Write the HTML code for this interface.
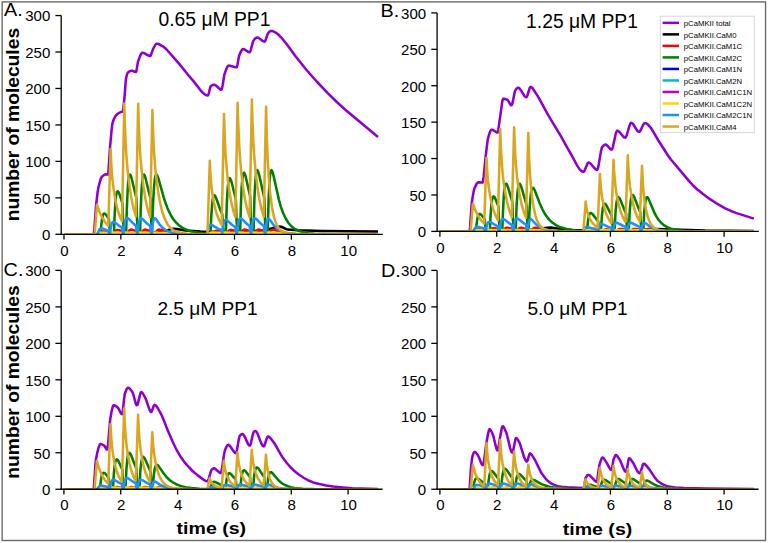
<!DOCTYPE html>
<html><head><meta charset="utf-8"><style>
html,body{margin:0;padding:0;background:#fff;overflow:hidden;}
svg{display:block;}
text{font-family:"Liberation Sans", sans-serif;fill:#000;}
</style></head><body>
<svg width="768" height="543" viewBox="0 0 768 543">
<rect x="0" y="0" width="768" height="543" fill="#fff"/>
<clipPath id="clipA"><rect x="61.20" y="15.55" width="321.60" height="218.75"/></clipPath>
<g clip-path="url(#clipA)">
<path d="M64.0 234.3 L93.6 234.3 L93.8 233.6 L94.4 228.4 L96.1 205.1 L97.5 193.0 L98.4 187.5 L100.1 181.0 L100.9 178.6 L101.8 176.9 L103.2 175.6 L104.9 174.6 L106.3 174.3 L108.1 174.5 L108.3 173.4 L110.0 147.5 L111.5 131.0 L112.3 124.0 L112.9 121.8 L114.0 118.8 L115.2 116.6 L116.3 115.1 L117.7 113.8 L119.4 112.7 L120.8 112.1 L122.5 111.8 L122.8 111.6 L123.4 108.0 L124.5 97.5 L125.7 81.2 L126.0 78.6 L126.8 75.1 L127.4 73.6 L127.9 72.6 L129.4 71.4 L130.5 70.9 L131.4 70.7 L132.2 70.8 L134.8 71.8 L135.9 72.0 L136.2 71.6 L136.5 70.4 L137.9 62.2 L139.9 56.4 L141.3 53.6 L142.2 52.8 L143.3 52.9 L144.7 53.4 L148.4 55.6 L149.8 56.0 L150.4 55.9 L151.0 54.8 L153.0 49.1 L155.2 45.0 L156.1 44.0 L156.6 43.7 L157.5 43.7 L158.6 44.0 L162.0 45.8 L164.3 47.4 L166.6 49.5 L178.8 63.4 L187.6 74.3 L193.3 80.9 L201.3 91.2 L203.0 93.0 L204.7 94.3 L206.4 95.2 L207.8 95.4 L208.1 95.2 L208.7 93.6 L210.4 86.7 L211.2 85.8 L212.6 85.0 L214.1 84.7 L215.2 85.0 L216.3 85.8 L220.0 89.2 L221.2 89.7 L221.4 89.7 L221.7 89.4 L222.6 85.7 L224.3 74.9 L225.7 70.7 L227.1 67.3 L228.0 66.0 L228.8 65.6 L230.8 65.9 L235.4 67.2 L236.5 67.3 L236.8 67.0 L237.4 65.1 L239.1 55.8 L240.8 51.7 L242.2 49.5 L243.0 49.0 L243.9 49.2 L245.0 49.7 L248.2 51.9 L249.3 52.3 L249.9 52.1 L250.7 50.1 L253.0 41.6 L254.4 39.4 L255.6 38.1 L256.7 37.5 L258.1 37.7 L259.5 38.5 L262.7 40.9 L263.8 41.4 L264.6 41.6 L264.9 41.4 L265.5 40.4 L267.5 34.3 L268.6 32.7 L269.8 31.5 L270.6 31.0 L271.8 30.9 L273.2 31.3 L275.2 32.3 L278.3 34.5 L281.1 37.3 L286.8 44.2 L295.9 56.8 L306.1 69.5 L316.7 81.5 L328.0 93.4 L336.8 102.0 L345.9 110.2 L378.0 137.0" fill="none" stroke="#8e00d2" stroke-width="2.55" stroke-linejoin="round" stroke-linecap="butt"/>
<path d="M64.0 234.3 L103.8 234.2 L122.5 233.9 L133.3 233.5 L150.4 232.4 L160.3 231.5 L166.6 230.6 L171.4 229.1 L173.4 228.8 L176.8 229.0 L185.6 230.6 L200.7 231.5 L219.5 232.1 L242.2 231.7 L264.1 230.5 L267.5 229.8 L275.7 227.2 L278.0 226.8 L280.0 226.6 L282.0 227.0 L286.2 229.1 L287.9 229.6 L297.6 230.3 L322.6 230.9 L378.0 231.4" fill="none" stroke="#000000" stroke-width="2.55" stroke-linejoin="round" stroke-linecap="butt"/>
<path d="M64.0 234.3 L100.1 234.3 L100.9 232.9 L101.8 232.0 L102.7 231.6 L103.8 231.4 L105.5 231.6 L108.3 232.3 L109.2 233.5 L110.3 234.0 L113.7 234.3 L114.6 232.2 L115.4 230.9 L116.3 230.2 L117.4 229.9 L119.1 230.2 L122.0 231.3 L122.8 233.1 L124.0 233.9 L125.1 234.2 L127.4 234.3 L128.2 232.0 L129.1 230.6 L129.9 229.9 L131.1 229.6 L132.8 229.9 L135.9 231.2 L136.8 233.0 L137.9 233.9 L139.0 234.2 L141.3 234.3 L142.2 232.0 L143.0 230.6 L143.9 229.9 L145.0 229.6 L146.7 229.9 L150.1 231.3 L151.0 233.1 L151.8 233.8 L153.0 234.1 L154.9 234.3 L155.5 234.3 L156.4 232.0 L157.2 230.6 L158.1 229.9 L159.2 229.6 L161.2 230.0 L167.4 232.5 L171.4 233.5 L177.7 234.1 L188.2 234.3 L212.9 234.3 L213.8 232.5 L214.6 231.5 L215.5 230.9 L216.6 230.7 L218.3 230.9 L221.7 232.0 L222.6 233.4 L223.7 234.0 L227.1 234.3 L228.0 232.2 L228.8 230.9 L230.0 230.1 L231.1 229.9 L232.8 230.3 L235.4 231.3 L236.2 233.1 L237.4 233.9 L238.5 234.2 L240.8 234.3 L241.6 232.0 L242.5 230.6 L243.3 229.9 L244.5 229.6 L246.2 229.9 L249.6 231.3 L250.4 233.1 L251.6 233.9 L252.7 234.2 L255.0 234.3 L255.8 232.0 L256.7 230.6 L257.5 229.9 L258.7 229.6 L260.4 229.9 L263.8 231.3 L264.6 233.1 L265.8 233.9 L266.9 234.2 L269.2 234.3 L270.0 232.0 L270.9 230.6 L271.8 229.9 L272.9 229.6 L274.6 229.9 L279.7 232.0 L282.8 233.0 L286.8 233.7 L291.9 234.1 L305.3 234.3 L378.0 234.3" fill="none" stroke="#ff0000" stroke-width="2.55" stroke-linejoin="round" stroke-linecap="butt"/>
<path d="M64.0 234.3 L100.4 234.3 L100.7 233.0 L101.2 225.6 L102.1 218.7 L102.7 216.1 L103.2 214.5 L103.8 213.7 L104.4 213.5 L105.2 213.9 L106.1 214.8 L108.9 219.0 L109.5 227.8 L109.8 230.1 L110.3 232.5 L110.9 233.5 L111.5 234.0 L113.7 234.3 L114.0 231.6 L114.6 216.4 L115.4 202.1 L116.0 196.6 L116.6 193.4 L117.1 191.7 L117.7 191.3 L118.6 192.1 L119.4 193.9 L122.5 203.6 L123.1 221.3 L123.7 228.8 L124.0 230.7 L124.5 232.8 L125.1 233.7 L126.0 234.1 L126.2 230.5 L126.8 209.3 L127.7 189.5 L128.2 181.9 L128.8 177.4 L129.4 175.1 L129.9 174.5 L130.2 174.6 L130.8 175.6 L131.6 178.2 L136.5 198.8 L137.0 219.3 L137.6 228.0 L137.9 230.2 L138.5 232.6 L139.0 233.6 L139.6 234.0 L139.9 234.1 L140.2 230.4 L140.7 209.3 L141.6 189.5 L142.2 181.9 L143.0 176.0 L143.6 174.7 L143.9 174.5 L144.1 174.6 L144.7 175.6 L145.3 177.2 L150.7 199.8 L151.2 219.8 L151.5 224.9 L152.1 230.3 L153.2 200.7 L154.1 186.0 L154.7 180.2 L155.2 176.7 L155.8 175.0 L156.4 174.5 L156.6 174.6 L157.2 175.4 L158.4 178.3 L163.5 196.7 L165.2 202.0 L167.2 207.4 L169.2 211.9 L171.1 215.7 L173.4 219.2 L175.7 222.1 L178.5 224.9 L181.4 227.1 L184.8 229.0 L188.5 230.6 L192.5 231.7 L197.3 232.6 L202.7 233.3 L209.2 233.8 L210.4 233.8 L210.6 231.4 L211.2 217.7 L212.1 204.9 L212.6 200.0 L213.2 197.2 L213.8 195.7 L214.3 195.3 L215.2 196.0 L216.0 197.7 L220.3 209.7 L222.3 214.5 L222.9 225.9 L223.4 230.7 L223.7 231.9 L224.3 233.2 L224.9 233.8 L225.7 234.1 L226.0 230.6 L226.8 203.3 L227.7 188.2 L228.3 182.6 L228.8 179.5 L229.4 178.2 L229.7 178.1 L230.0 178.2 L230.8 179.8 L231.7 182.5 L235.9 199.8 L236.5 219.7 L237.1 228.1 L237.4 230.3 L237.9 232.6 L238.8 233.8 L239.9 234.2 L240.2 230.4 L240.8 208.5 L241.6 188.1 L242.2 180.3 L242.8 175.7 L243.3 173.3 L243.9 172.7 L244.2 172.8 L244.8 173.8 L245.6 176.4 L250.2 196.5 L250.7 218.3 L251.3 227.6 L251.6 229.9 L252.1 232.4 L252.7 233.5 L253.3 234.0 L253.6 230.1 L254.4 198.9 L255.3 181.7 L256.1 173.2 L256.7 170.8 L257.3 170.1 L257.5 170.3 L258.1 171.3 L259.0 174.1 L264.4 198.5 L264.9 219.2 L265.5 227.9 L265.8 230.2 L266.4 232.6 L266.9 233.6 L267.5 234.0 L267.8 230.1 L268.6 198.9 L269.5 181.7 L270.3 173.2 L270.9 170.8 L271.5 170.1 L272.0 170.7 L272.9 173.0 L278.9 199.6 L280.8 206.6 L283.1 213.0 L285.7 218.5 L288.5 223.0 L291.6 226.5 L295.3 229.2 L299.0 231.0 L303.3 232.3 L308.4 233.2 L314.7 233.8 L331.7 234.2 L378.0 234.3" fill="none" stroke="#008000" stroke-width="2.55" stroke-linejoin="round" stroke-linecap="butt"/>
<path d="M64.0 234.3 L378.0 234.3" fill="none" stroke="#0000ff" stroke-width="2.55" stroke-linejoin="round" stroke-linecap="butt"/>
<path d="M64.0 234.3 L378.0 234.3" fill="none" stroke="#00bfbf" stroke-width="2.55" stroke-linejoin="round" stroke-linecap="butt"/>
<path d="M64.0 234.3 L378.0 234.3" fill="none" stroke="#bf00bf" stroke-width="2.55" stroke-linejoin="round" stroke-linecap="butt"/>
<path d="M64.0 234.3 L94.1 234.3 L95.3 234.1 L96.7 233.1 L97.8 232.6 L108.9 233.0 L111.7 232.6 L122.5 233.0 L124.0 232.7 L126.0 232.6 L136.5 233.0 L137.9 232.7 L139.6 232.6 L150.7 233.0 L152.1 232.7 L154.1 232.6 L188.2 234.2 L207.8 234.3 L210.4 233.0 L211.5 232.6 L222.3 233.0 L223.7 232.7 L225.7 232.6 L235.9 233.0 L238.8 232.6 L250.2 233.0 L252.7 232.6 L264.4 233.0 L265.8 232.7 L268.3 232.6 L287.7 233.6 L306.4 234.3 L378.0 234.3" fill="none" stroke="#ffd700" stroke-width="2.55" stroke-linejoin="round" stroke-linecap="butt"/>
<path d="M64.0 234.3 L97.8 234.3 L98.4 231.8 L99.2 229.7 L100.1 228.8 L101.2 228.5 L102.9 228.8 L108.3 230.7 L108.9 233.1 L109.5 233.9 L110.0 234.1 L110.6 228.9 L111.5 224.5 L112.3 222.5 L112.9 222.0 L113.5 221.9 L114.9 222.5 L119.1 225.8 L122.0 227.6 L122.5 232.0 L123.1 233.5 L123.7 234.0 L124.3 227.1 L125.1 221.3 L126.0 218.7 L126.5 218.1 L127.1 217.9 L127.7 218.1 L128.5 218.6 L133.1 223.3 L135.9 225.7 L136.5 231.3 L137.0 233.2 L137.6 233.9 L138.2 227.2 L139.0 221.6 L139.9 219.1 L140.4 218.4 L141.0 218.3 L141.6 218.4 L142.4 219.0 L147.0 223.5 L150.1 226.1 L150.7 231.4 L151.2 233.3 L151.8 233.9 L152.4 226.6 L153.0 222.2 L153.8 219.0 L154.1 218.6 L154.7 218.3 L155.2 218.5 L156.1 219.3 L159.5 224.3 L162.0 227.2 L164.6 229.3 L167.7 231.1 L171.4 232.4 L176.0 233.3 L181.7 233.9 L189.6 234.2 L207.2 234.3 L207.8 230.2 L208.7 226.8 L209.5 225.3 L210.1 224.9 L210.6 224.8 L212.1 225.2 L217.5 228.4 L221.7 230.2 L222.3 232.9 L222.9 227.5 L223.7 222.7 L224.6 220.4 L225.1 219.9 L226.0 219.8 L227.1 220.4 L232.0 224.7 L235.4 227.2 L235.9 231.8 L236.5 233.4 L237.1 234.0 L237.6 227.3 L238.5 221.6 L239.4 219.1 L239.9 218.4 L240.5 218.3 L241.1 218.4 L241.9 219.0 L246.5 223.5 L249.6 226.1 L250.2 231.4 L250.7 233.3 L251.3 233.9 L251.9 227.2 L252.7 221.6 L253.6 219.1 L254.1 218.4 L254.7 218.3 L255.3 218.4 L256.1 219.0 L260.7 223.5 L263.8 226.1 L264.4 231.4 L264.9 233.3 L265.5 233.9 L266.1 226.8 L266.6 222.5 L267.5 219.4 L267.8 218.9 L268.3 218.6 L268.9 218.8 L269.8 219.7 L272.9 224.1 L274.6 226.2 L276.3 227.9 L278.0 229.3 L280.3 230.6 L282.8 231.7 L286.0 232.7 L289.4 233.3 L296.5 233.9 L307.3 234.2 L378.0 234.3" fill="none" stroke="#1e90ff" stroke-width="2.55" stroke-linejoin="round" stroke-linecap="butt"/>
<path d="M64.0 234.3 L94.7 234.3 L97.0 204.7 L99.5 212.0 L102.1 217.4 L104.9 222.0 L108.3 225.8 L110.6 149.0 L111.2 162.3 L112.0 175.0 L112.9 183.6 L114.3 193.9 L116.0 203.1 L117.7 210.0 L119.7 216.2 L122.0 221.3 L124.3 103.4 L124.8 124.1 L125.7 143.9 L126.5 157.2 L127.9 173.3 L129.7 187.4 L131.4 198.2 L133.6 208.7 L135.9 216.2 L138.2 103.8 L138.7 124.1 L139.6 143.8 L140.4 157.1 L141.9 173.2 L143.6 187.4 L145.6 199.7 L147.8 209.9 L150.1 217.0 L152.4 110.0 L153.0 129.4 L153.8 148.1 L154.9 164.3 L156.4 178.6 L158.1 191.6 L160.1 202.8 L162.3 212.0 L164.9 219.2 L167.2 223.7 L168.6 225.7 L170.0 227.4 L173.1 230.0 L175.1 231.2 L177.1 232.0 L181.7 233.1 L187.3 233.8 L195.0 234.1 L207.5 234.3 L209.8 160.7 L210.4 172.7 L211.2 184.1 L212.1 191.7 L213.5 200.6 L215.2 208.5 L217.2 215.3 L219.5 220.9 L221.7 224.8 L224.0 114.0 L224.6 133.2 L225.4 151.5 L226.3 163.8 L227.7 178.5 L229.4 191.5 L231.1 201.4 L233.1 210.0 L235.4 217.2 L237.6 102.7 L238.2 123.3 L239.1 143.1 L239.9 156.6 L241.3 172.8 L243.0 187.1 L245.0 199.5 L247.3 209.7 L249.6 217.0 L251.9 99.4 L252.4 120.5 L253.3 140.9 L254.1 154.7 L255.6 171.3 L257.3 185.9 L259.2 198.7 L261.5 209.1 L263.8 216.5 L266.1 106.7 L266.9 140.5 L267.8 160.9 L268.9 179.1 L270.3 194.7 L272.0 207.4 L274.0 217.1 L275.2 220.9 L276.6 224.5 L278.0 227.1 L279.4 229.0 L282.0 231.2 L284.8 232.6 L288.5 233.5 L293.9 234.0 L309.0 234.3 L378.0 234.3" fill="none" stroke="#daa520" stroke-width="2.55" stroke-linejoin="round" stroke-linecap="butt"/>
</g>
<clipPath id="clipB"><rect x="437.10" y="12.90" width="321.70" height="218.50"/></clipPath>
<g clip-path="url(#clipB)">
<path d="M439.9 231.4 L469.5 231.4 L469.7 230.4 L470.0 227.9 L471.7 203.5 L472.9 195.6 L474.0 189.8 L474.6 188.0 L476.0 184.9 L476.8 183.5 L477.7 182.6 L478.6 182.2 L482.5 182.6 L482.8 182.1 L483.7 176.4 L485.1 161.5 L486.8 146.9 L487.6 140.6 L488.2 137.7 L489.9 132.1 L490.8 130.3 L491.3 129.7 L492.2 129.7 L493.0 130.0 L496.7 132.4 L497.6 132.6 L497.9 132.2 L498.4 129.3 L501.9 104.1 L502.4 100.8 L503.0 99.0 L503.3 98.7 L504.4 98.8 L507.3 99.7 L508.1 100.6 L510.4 104.5 L510.9 105.1 L511.5 105.3 L511.8 105.1 L512.4 103.6 L514.9 91.2 L515.8 89.7 L516.9 88.3 L517.5 87.9 L518.1 87.7 L518.6 87.8 L519.5 88.4 L520.6 89.9 L524.3 95.8 L525.4 96.9 L526.3 97.2 L526.9 96.7 L527.4 95.4 L529.7 88.0 L530.3 87.0 L530.6 86.9 L531.7 87.4 L532.8 88.5 L538.5 97.4 L548.2 115.2 L561.0 136.3 L567.5 148.2 L571.5 155.0 L577.2 165.6 L579.7 169.4 L581.7 171.3 L583.1 171.8 L583.7 171.7 L584.0 171.5 L584.8 170.1 L587.4 163.7 L588.0 162.8 L588.5 162.5 L589.4 162.7 L590.5 163.5 L595.4 169.2 L596.5 169.8 L597.1 169.9 L597.3 169.7 L597.9 168.4 L598.5 165.9 L600.8 152.1 L601.9 147.4 L602.5 146.6 L603.9 145.3 L605.0 144.7 L605.9 144.6 L607.3 145.6 L610.4 149.1 L611.3 149.6 L611.8 149.5 L612.4 148.5 L613.0 146.6 L615.8 133.6 L616.4 131.8 L617.0 130.8 L617.5 130.7 L618.7 131.3 L619.8 132.4 L623.2 136.5 L624.3 137.4 L625.2 137.6 L625.8 137.2 L626.6 135.5 L629.5 125.7 L630.3 123.6 L630.9 122.8 L631.7 122.9 L632.9 123.8 L637.1 130.5 L638.3 131.6 L639.1 131.9 L639.7 131.7 L640.5 130.5 L643.1 125.0 L644.0 123.6 L644.5 123.2 L645.7 123.2 L646.8 123.7 L648.2 124.8 L651.1 128.2 L658.4 140.5 L667.8 155.2 L670.7 159.2 L688.9 180.9 L693.1 185.5 L697.1 189.2 L703.4 194.3 L709.6 198.9 L717.8 204.2 L725.2 208.3 L730.4 210.7 L735.8 212.9 L753.9 218.6" fill="none" stroke="#8e00d2" stroke-width="2.55" stroke-linejoin="round" stroke-linecap="butt"/>
<path d="M439.9 231.4 L484.5 231.3 L520.0 230.5 L529.4 230.0 L547.3 227.8 L550.7 227.6 L553.9 227.9 L561.8 229.2 L572.1 230.0 L579.7 230.3 L639.1 229.9 L652.2 229.0 L656.5 228.9 L705.1 230.6 L753.9 231.0" fill="none" stroke="#000000" stroke-width="2.55" stroke-linejoin="round" stroke-linecap="butt"/>
<path d="M439.9 231.4 L476.0 231.4 L476.8 230.3 L477.7 229.7 L478.6 229.4 L479.7 229.2 L484.2 229.9 L485.1 230.8 L486.2 231.2 L489.6 231.4 L490.5 229.8 L491.3 228.8 L492.2 228.3 L493.3 228.1 L495.0 228.3 L497.9 229.2 L498.7 230.5 L499.9 231.1 L503.3 231.4 L504.1 229.6 L505.0 228.6 L505.8 228.0 L507.0 227.8 L508.7 228.0 L511.8 229.0 L512.7 230.4 L513.8 231.1 L517.2 231.4 L518.1 229.6 L518.9 228.6 L519.8 228.0 L520.9 227.8 L522.6 228.0 L526.0 229.1 L526.9 230.5 L527.7 231.0 L528.9 231.3 L530.8 231.4 L531.4 231.4 L532.3 229.6 L533.1 228.6 L534.0 228.0 L535.1 227.8 L536.8 228.0 L542.2 229.7 L545.9 230.6 L550.7 231.1 L557.6 231.3 L588.8 231.4 L590.5 230.3 L592.5 229.9 L597.6 230.5 L598.5 231.0 L599.6 231.3 L603.0 231.4 L603.9 230.3 L604.7 229.7 L605.6 229.4 L606.7 229.2 L611.3 229.9 L612.1 230.8 L613.3 231.2 L616.7 231.4 L617.5 230.2 L618.4 229.4 L619.2 229.0 L620.4 228.9 L622.1 229.0 L625.5 229.8 L626.3 230.7 L627.5 231.2 L630.9 231.4 L631.7 230.2 L632.6 229.4 L633.4 229.0 L634.6 228.9 L636.3 229.0 L639.7 229.8 L640.5 230.7 L641.7 231.2 L645.1 231.4 L645.9 230.2 L646.8 229.4 L647.7 229.0 L648.8 228.9 L650.5 229.0 L658.7 230.7 L667.8 231.3 L753.9 231.4" fill="none" stroke="#ff0000" stroke-width="2.55" stroke-linejoin="round" stroke-linecap="butt"/>
<path d="M439.9 231.4 L475.7 231.4 L476.0 230.3 L476.6 224.1 L477.4 218.3 L478.0 216.1 L478.6 214.8 L479.1 214.1 L479.7 213.9 L480.5 214.2 L481.4 215.0 L484.8 219.3 L485.4 226.3 L485.7 228.1 L486.2 230.0 L486.8 230.8 L487.4 231.1 L489.6 231.4 L489.9 229.2 L490.5 216.8 L491.3 205.2 L491.9 200.8 L492.5 198.1 L493.0 196.8 L493.6 196.4 L494.5 197.1 L495.3 198.6 L498.4 206.5 L499.0 220.8 L499.6 226.9 L499.9 228.5 L500.4 230.2 L501.0 230.9 L502.1 231.3 L502.4 228.4 L503.0 211.5 L503.8 195.7 L504.4 189.6 L505.0 186.0 L505.6 184.2 L506.1 183.7 L506.4 183.8 L507.0 184.6 L507.8 186.6 L512.4 202.1 L512.9 219.0 L513.5 226.2 L513.8 228.0 L514.4 230.0 L514.9 230.8 L515.5 231.1 L515.8 228.3 L516.6 205.1 L517.5 192.3 L518.3 186.0 L518.9 184.2 L519.5 183.7 L519.8 183.8 L520.3 184.6 L521.2 186.6 L526.6 204.8 L526.9 214.1 L527.4 224.1 L528.0 228.3 L528.6 230.1 L529.7 207.1 L530.6 196.2 L531.1 191.9 L531.7 189.3 L532.3 188.1 L532.8 187.7 L533.7 188.3 L534.8 190.5 L539.7 203.2 L542.5 209.6 L545.3 214.6 L548.2 218.5 L550.2 220.6 L552.2 222.5 L556.4 225.4 L559.0 226.6 L561.5 227.6 L567.5 229.2 L575.7 230.4 L586.8 231.0 L587.1 229.9 L587.7 223.5 L588.5 217.5 L589.1 215.2 L589.7 213.8 L590.2 213.1 L590.8 212.9 L591.7 213.3 L592.5 214.1 L598.2 221.4 L598.5 224.9 L599.1 228.6 L599.6 230.2 L600.2 230.8 L600.8 231.1 L601.0 229.4 L601.9 216.0 L602.7 208.6 L603.6 205.0 L604.2 203.9 L604.7 203.7 L605.6 204.2 L606.4 205.4 L611.8 215.9 L612.1 221.3 L612.7 227.1 L613.3 229.6 L613.8 230.6 L614.4 231.1 L614.7 229.0 L615.5 212.5 L616.4 203.3 L617.2 198.8 L617.8 197.5 L618.4 197.1 L619.2 197.8 L620.1 199.2 L624.1 209.1 L626.1 213.5 L626.3 219.7 L626.9 226.5 L627.5 229.3 L628.0 230.5 L628.6 231.0 L628.9 228.9 L629.7 211.3 L630.6 201.5 L631.5 196.7 L632.0 195.4 L632.6 195.0 L633.4 195.6 L634.3 197.2 L638.3 207.6 L640.3 212.3 L640.5 219.0 L641.1 226.2 L641.4 228.0 L642.0 230.0 L642.5 230.8 L643.1 231.1 L643.4 229.1 L644.2 212.5 L645.1 203.3 L645.9 198.8 L646.5 197.5 L647.1 197.2 L647.7 197.5 L648.5 198.7 L654.5 212.9 L656.5 216.6 L658.7 220.0 L661.3 223.0 L664.1 225.4 L667.3 227.2 L671.0 228.7 L674.6 229.6 L678.9 230.3 L684.0 230.8 L690.3 231.1 L707.3 231.4 L753.9 231.4" fill="none" stroke="#008000" stroke-width="2.55" stroke-linejoin="round" stroke-linecap="butt"/>
<path d="M439.9 231.4 L753.9 231.4" fill="none" stroke="#0000ff" stroke-width="2.55" stroke-linejoin="round" stroke-linecap="butt"/>
<path d="M439.9 231.4 L753.9 231.4" fill="none" stroke="#00bfbf" stroke-width="2.55" stroke-linejoin="round" stroke-linecap="butt"/>
<path d="M439.9 231.4 L753.9 231.4" fill="none" stroke="#bf00bf" stroke-width="2.55" stroke-linejoin="round" stroke-linecap="butt"/>
<path d="M439.9 231.4 L470.0 231.4 L471.2 231.2 L472.9 230.1 L474.0 229.9 L484.8 230.2 L486.2 229.9 L488.2 229.9 L498.4 230.2 L501.3 229.9 L512.4 230.2 L514.9 229.9 L526.6 230.2 L528.0 229.9 L530.6 229.9 L559.8 231.1 L569.5 231.4 L584.0 231.4 L586.5 230.2 L587.7 229.9 L598.2 230.2 L601.6 229.9 L611.8 230.2 L615.0 229.9 L626.1 230.2 L629.2 229.9 L640.3 230.2 L643.1 229.9 L681.8 231.4 L753.9 231.4" fill="none" stroke="#ffd700" stroke-width="2.55" stroke-linejoin="round" stroke-linecap="butt"/>
<path d="M439.9 231.4 L473.7 231.4 L474.3 229.4 L475.1 227.7 L476.0 226.9 L477.1 226.7 L478.8 227.0 L484.2 228.5 L484.8 230.4 L485.4 231.0 L485.9 231.3 L486.5 227.3 L487.4 223.9 L488.2 222.4 L488.8 222.0 L489.4 221.9 L490.8 222.4 L495.0 224.9 L497.9 226.3 L498.4 229.6 L499.0 230.8 L499.6 231.2 L500.2 226.0 L501.0 221.6 L501.9 219.6 L502.4 219.1 L503.0 219.0 L504.4 219.6 L509.0 223.1 L511.8 224.9 L512.4 229.1 L512.9 230.6 L513.5 231.1 L514.1 225.6 L514.9 221.0 L515.8 219.0 L516.3 218.4 L516.9 218.3 L518.3 218.9 L522.9 222.6 L526.0 224.7 L526.6 229.1 L527.1 230.6 L527.7 231.1 L528.3 225.4 L528.9 222.0 L529.7 219.6 L530.0 219.3 L530.6 219.0 L531.1 219.2 L532.0 219.9 L535.4 223.6 L537.4 225.5 L539.4 226.9 L541.6 228.1 L544.5 229.2 L547.9 230.0 L551.9 230.6 L556.7 231.0 L566.1 231.3 L583.1 231.4 L583.7 229.5 L584.6 227.9 L585.4 227.2 L586.5 227.0 L597.6 229.5 L598.2 230.7 L598.8 228.0 L599.6 225.6 L600.5 224.5 L601.6 224.1 L603.0 224.4 L607.9 226.6 L611.3 227.9 L611.8 230.2 L612.4 231.0 L613.0 231.2 L613.5 227.6 L614.4 224.5 L615.3 223.1 L615.8 222.7 L616.4 222.7 L617.8 223.1 L622.4 225.5 L625.5 226.9 L626.1 229.8 L626.6 230.9 L627.2 231.2 L627.8 227.6 L628.6 224.5 L629.5 223.1 L630.0 222.7 L630.6 222.7 L632.0 223.1 L636.6 225.5 L639.7 226.9 L640.3 229.8 L640.8 230.9 L641.4 231.2 L642.0 227.2 L642.5 224.8 L643.4 223.1 L644.2 222.7 L645.7 223.2 L650.5 226.9 L653.9 228.6 L658.7 230.0 L665.3 230.8 L672.4 231.2 L683.2 231.4 L753.9 231.4" fill="none" stroke="#1e90ff" stroke-width="2.55" stroke-linejoin="round" stroke-linecap="butt"/>
<path d="M439.9 231.4 L470.6 231.4 L472.9 203.7 L475.4 210.5 L478.0 215.6 L480.8 219.9 L484.2 223.5 L486.5 157.8 L487.1 169.3 L487.9 180.2 L488.8 187.6 L490.2 196.5 L491.9 204.4 L493.6 210.4 L495.6 215.7 L497.9 220.2 L500.2 128.7 L500.7 144.9 L501.6 160.4 L502.4 170.8 L503.8 183.4 L505.6 194.5 L507.3 203.0 L509.5 211.3 L511.8 217.2 L514.1 127.2 L515.2 154.7 L516.1 166.6 L516.9 175.5 L518.1 184.8 L519.5 194.0 L521.2 202.6 L522.9 209.2 L524.3 213.5 L526.0 217.6 L528.3 133.1 L529.1 159.1 L530.0 174.8 L531.4 191.6 L532.3 198.8 L533.4 206.3 L535.4 215.3 L536.5 218.9 L537.9 222.3 L539.4 224.7 L540.8 226.5 L542.5 228.0 L544.8 229.3 L548.7 230.5 L554.7 231.1 L563.5 231.3 L583.4 231.4 L585.7 201.5 L586.3 206.4 L587.1 211.1 L588.0 214.1 L589.4 217.7 L591.1 220.9 L593.1 223.7 L595.4 226.0 L597.6 227.6 L599.9 173.9 L600.5 183.1 L601.3 191.9 L602.2 197.7 L603.3 203.6 L605.0 210.1 L606.7 215.0 L609.0 219.8 L611.3 223.2 L613.5 159.7 L614.1 171.0 L615.0 181.8 L615.8 189.1 L617.2 198.0 L618.9 205.7 L620.9 212.5 L623.2 218.0 L625.5 222.0 L627.8 155.3 L628.3 167.2 L629.2 178.7 L630.0 186.5 L631.5 195.9 L633.2 204.1 L635.1 211.3 L637.4 217.2 L639.7 221.4 L642.0 165.9 L642.8 183.1 L643.7 193.6 L644.8 202.9 L646.2 210.9 L647.9 217.4 L649.9 222.4 L651.1 224.4 L652.5 226.3 L653.9 227.6 L655.3 228.6 L657.9 229.8 L660.7 230.5 L664.4 231.0 L669.8 231.2 L753.9 231.4" fill="none" stroke="#daa520" stroke-width="2.55" stroke-linejoin="round" stroke-linecap="butt"/>
</g>
<clipPath id="clipC"><rect x="61.20" y="270.40" width="321.40" height="218.85"/></clipPath>
<g clip-path="url(#clipC)">
<path d="M63.9 489.2 L93.5 489.2 L93.7 488.4 L94.0 486.0 L95.4 465.1 L96.0 459.4 L97.4 452.1 L98.9 446.7 L100.0 444.3 L100.6 444.0 L101.4 444.1 L104.0 445.3 L106.5 449.2 L107.1 449.5 L107.4 449.0 L108.2 442.6 L110.2 419.4 L111.6 411.3 L112.8 406.6 L113.4 405.4 L113.9 405.3 L115.3 405.8 L117.0 407.1 L117.9 407.8 L118.5 408.6 L121.0 413.3 L121.6 413.9 L122.2 414.2 L122.4 413.6 L122.7 412.0 L124.2 397.9 L124.7 394.3 L125.9 391.0 L126.7 389.1 L127.6 387.9 L128.1 387.7 L129.0 388.0 L130.1 388.9 L132.7 392.6 L133.5 395.1 L135.5 402.7 L136.1 404.3 L136.7 405.2 L136.9 405.3 L137.2 405.1 L137.8 403.9 L140.1 394.4 L140.6 392.7 L141.2 392.1 L142.1 392.5 L142.9 393.5 L146.0 399.3 L149.2 408.8 L150.0 410.8 L150.6 411.7 L151.1 412.0 L151.7 411.5 L153.7 406.0 L154.3 405.1 L154.6 404.9 L155.1 405.1 L156.3 406.0 L158.0 408.5 L161.4 414.7 L163.4 419.3 L168.2 431.6 L173.6 443.8 L177.0 450.7 L181.0 457.3 L183.3 460.5 L185.5 463.4 L189.2 467.5 L192.6 471.0 L198.0 475.6 L203.7 479.8 L205.7 480.9 L207.4 481.3 L208.0 480.8 L208.8 478.6 L211.1 470.7 L211.7 469.7 L213.1 468.6 L214.0 468.3 L215.1 468.7 L219.4 472.5 L220.5 473.0 L220.8 473.0 L221.1 472.7 L221.9 469.4 L223.9 455.3 L224.8 450.7 L226.2 447.2 L227.3 445.3 L228.2 444.8 L228.7 445.0 L229.6 445.6 L230.7 447.0 L233.9 451.7 L235.0 452.8 L235.8 453.1 L236.1 452.8 L236.7 451.2 L239.0 438.3 L239.8 435.7 L241.0 434.6 L241.8 434.1 L242.7 434.1 L243.2 434.5 L244.7 436.6 L248.1 444.1 L248.9 445.2 L249.8 445.6 L250.3 445.0 L250.9 443.3 L252.6 435.5 L253.5 432.4 L254.0 431.5 L255.5 431.0 L256.3 431.5 L257.4 433.3 L261.1 442.9 L262.0 444.7 L262.8 446.0 L263.7 446.4 L264.0 446.3 L264.5 445.4 L266.5 439.1 L267.4 437.0 L268.0 436.5 L268.5 436.6 L269.4 437.1 L271.1 438.9 L274.8 443.8 L280.7 454.4 L282.7 457.6 L286.4 462.5 L289.8 466.5 L294.1 470.8 L298.4 474.3 L304.0 478.0 L309.2 480.8 L313.1 482.4 L319.4 484.1 L326.2 485.6 L333.0 486.6 L342.7 487.5 L352.4 488.2 L377.9 488.9" fill="none" stroke="#8e00d2" stroke-width="2.55" stroke-linejoin="round" stroke-linecap="butt"/>
<path d="M63.9 489.2 L377.9 489.2" fill="none" stroke="#000000" stroke-width="2.55" stroke-linejoin="round" stroke-linecap="butt"/>
<path d="M63.9 489.2 L100.0 489.2 L101.7 488.1 L103.7 487.8 L108.2 488.3 L109.1 488.8 L110.2 489.1 L113.6 489.2 L114.5 488.2 L115.3 487.5 L116.2 487.2 L117.3 487.1 L121.9 487.8 L122.7 488.6 L123.9 489.1 L127.3 489.2 L128.1 488.2 L129.0 487.5 L129.8 487.2 L131.0 487.1 L132.7 487.2 L135.8 487.8 L136.7 488.7 L137.5 489.0 L140.6 489.2 L141.2 489.2 L142.1 488.2 L142.9 487.5 L143.8 487.2 L144.9 487.1 L146.6 487.2 L150.0 487.9 L150.9 488.7 L152.0 489.1 L155.4 489.2 L156.3 488.2 L157.1 487.5 L158.0 487.2 L159.1 487.1 L169.9 488.7 L174.7 489.1 L181.6 489.2 L212.8 489.2 L214.5 488.4 L216.5 488.2 L221.6 488.6 L222.5 489.0 L223.6 489.2 L227.0 489.2 L228.7 488.1 L230.7 487.8 L235.3 488.3 L236.1 488.8 L237.3 489.1 L240.7 489.2 L242.4 488.1 L244.4 487.8 L249.5 488.3 L250.3 488.9 L251.5 489.1 L254.9 489.2 L256.6 488.1 L258.6 487.8 L263.7 488.3 L264.5 488.9 L265.7 489.1 L269.1 489.2 L270.8 488.1 L272.8 487.8 L282.7 488.9 L291.8 489.2 L377.9 489.2" fill="none" stroke="#ff0000" stroke-width="2.55" stroke-linejoin="round" stroke-linecap="butt"/>
<path d="M63.9 489.2 L99.7 489.2 L100.0 488.2 L100.6 482.4 L101.4 477.0 L102.0 474.9 L102.6 473.6 L103.1 473.0 L103.7 472.8 L104.5 473.1 L105.4 473.8 L108.8 477.9 L109.4 484.4 L109.9 487.2 L110.8 488.7 L111.6 489.1 L112.8 489.2 L113.1 487.4 L113.6 476.8 L114.5 466.9 L115.1 463.0 L115.6 460.8 L116.2 459.7 L116.8 459.3 L117.6 459.9 L118.5 461.2 L122.4 469.7 L122.7 476.6 L123.3 483.9 L123.6 485.8 L124.2 487.8 L124.7 488.6 L125.3 489.0 L125.6 486.8 L126.4 469.1 L127.3 459.3 L128.1 454.5 L128.7 453.2 L129.3 452.8 L130.1 453.4 L131.0 455.0 L136.4 468.9 L136.7 476.0 L137.2 483.7 L137.5 485.6 L138.1 487.7 L138.6 488.6 L139.2 489.0 L139.5 487.1 L140.3 471.3 L141.2 462.6 L142.1 458.4 L142.6 457.1 L143.2 456.8 L144.0 457.4 L144.9 458.8 L150.6 471.7 L150.9 477.9 L151.4 484.4 L152.0 487.2 L152.6 488.4 L153.7 475.6 L154.6 469.5 L155.1 467.2 L155.7 465.7 L156.3 465.0 L156.8 464.8 L157.7 465.2 L158.8 466.4 L163.7 473.5 L166.5 477.0 L169.3 479.8 L172.2 482.0 L176.2 484.2 L180.4 485.9 L185.5 487.2 L191.5 488.0 L199.5 488.7 L210.3 489.0 L210.5 488.6 L211.1 486.0 L212.0 483.6 L213.1 482.1 L214.2 481.8 L215.9 482.3 L222.2 485.5 L222.8 487.6 L223.3 488.5 L224.2 489.0 L225.3 489.2 L225.6 488.2 L226.2 482.5 L227.0 477.2 L227.6 475.1 L228.2 473.9 L228.7 473.3 L229.3 473.2 L230.2 473.5 L231.0 474.2 L235.8 479.7 L236.4 485.2 L237.0 487.5 L237.5 488.5 L238.1 488.9 L240.1 489.2 L240.4 488.0 L241.0 481.3 L241.8 475.0 L242.4 472.6 L242.9 471.2 L243.5 470.5 L244.1 470.3 L244.9 470.6 L245.8 471.4 L250.1 477.2 L250.3 481.4 L250.9 486.0 L251.8 488.3 L252.3 488.9 L252.9 489.1 L253.2 487.8 L254.0 477.2 L254.9 471.3 L255.7 468.4 L256.3 467.6 L256.9 467.4 L257.7 467.8 L258.6 468.7 L264.3 477.4 L264.5 481.6 L265.1 486.0 L265.7 487.9 L266.3 488.7 L266.8 489.0 L267.1 488.0 L268.0 479.8 L268.8 475.2 L269.7 472.9 L270.2 472.3 L270.8 472.1 L271.4 472.3 L272.2 472.9 L278.2 480.0 L280.2 481.9 L282.4 483.6 L285.0 485.0 L287.8 486.2 L291.0 487.2 L294.7 487.9 L302.6 488.7 L314.0 489.1 L377.9 489.2" fill="none" stroke="#008000" stroke-width="2.55" stroke-linejoin="round" stroke-linecap="butt"/>
<path d="M63.9 489.2 L377.9 489.2" fill="none" stroke="#0000ff" stroke-width="2.55" stroke-linejoin="round" stroke-linecap="butt"/>
<path d="M63.9 489.2 L377.9 489.2" fill="none" stroke="#00bfbf" stroke-width="2.55" stroke-linejoin="round" stroke-linecap="butt"/>
<path d="M63.9 489.2 L377.9 489.2" fill="none" stroke="#bf00bf" stroke-width="2.55" stroke-linejoin="round" stroke-linecap="butt"/>
<path d="M63.9 489.2 L94.0 489.2 L95.2 489.1 L96.6 488.0 L98.0 487.6 L108.8 488.1 L110.2 487.6 L112.2 487.6 L122.4 488.1 L123.6 487.7 L125.3 487.6 L136.4 488.1 L137.8 487.7 L139.8 487.6 L150.6 488.1 L152.0 487.7 L154.0 487.6 L172.7 488.6 L193.2 489.2 L208.0 489.2 L210.0 488.1 L211.7 487.7 L222.2 488.2 L223.6 487.8 L225.6 487.7 L235.8 488.2 L237.3 487.8 L239.0 487.7 L250.1 488.2 L251.5 487.8 L253.2 487.7 L264.3 488.2 L265.4 487.8 L267.1 487.7 L286.7 488.7 L305.2 489.2 L377.9 489.2" fill="none" stroke="#ffd700" stroke-width="2.55" stroke-linejoin="round" stroke-linecap="butt"/>
<path d="M63.9 489.2 L97.7 489.2 L98.3 487.7 L99.1 486.4 L100.0 485.8 L101.1 485.6 L108.2 487.0 L108.8 488.5 L109.4 489.0 L109.9 489.2 L110.5 485.1 L111.4 481.7 L112.2 480.3 L112.8 479.9 L113.4 479.8 L114.8 480.2 L119.0 482.7 L121.9 484.1 L122.4 487.5 L123.0 488.6 L123.6 489.0 L124.2 484.3 L125.0 480.3 L125.9 478.5 L126.4 478.1 L127.0 477.9 L128.4 478.5 L133.0 481.7 L135.8 483.3 L136.4 487.2 L136.9 488.5 L137.5 489.0 L138.1 485.1 L138.9 481.7 L139.8 480.2 L140.3 479.9 L140.9 479.8 L142.3 480.2 L146.9 482.9 L150.0 484.4 L150.6 487.6 L151.1 488.7 L151.7 489.0 L152.3 485.5 L152.9 483.3 L153.7 481.8 L154.6 481.4 L156.0 482.0 L159.4 484.4 L161.4 485.5 L165.6 487.2 L168.5 487.9 L171.9 488.4 L180.7 489.0 L207.1 489.2 L207.7 488.3 L208.6 487.5 L209.4 487.2 L210.5 487.1 L221.6 488.3 L222.2 488.9 L222.8 487.2 L223.6 485.8 L224.5 485.1 L225.6 484.9 L227.0 485.1 L235.3 487.1 L235.8 488.5 L236.4 489.0 L237.0 489.2 L237.5 487.2 L238.4 485.5 L239.3 484.7 L240.4 484.5 L241.8 484.7 L249.5 486.8 L250.1 488.4 L250.6 489.0 L251.2 489.1 L251.8 487.2 L252.6 485.5 L253.5 484.7 L254.6 484.5 L256.0 484.7 L263.7 486.8 L264.3 488.4 L264.8 489.0 L265.4 489.1 L266.0 487.0 L266.5 485.7 L267.4 484.7 L268.2 484.5 L269.7 484.8 L274.5 486.8 L277.9 487.7 L282.7 488.5 L289.3 488.9 L307.2 489.2 L377.9 489.2" fill="none" stroke="#1e90ff" stroke-width="2.55" stroke-linejoin="round" stroke-linecap="butt"/>
<path d="M63.9 489.2 L94.6 489.2 L96.9 460.8 L99.1 468.6 L101.7 474.8 L103.1 477.4 L104.8 480.0 L106.5 481.9 L108.2 483.5 L110.5 424.3 L111.1 435.2 L111.9 445.7 L113.1 454.7 L114.2 461.2 L115.9 468.5 L117.6 473.8 L119.6 478.3 L121.9 481.8 L124.2 408.3 L124.7 421.9 L125.6 435.1 L126.7 446.5 L127.8 454.7 L129.6 463.7 L131.3 470.3 L133.2 475.9 L134.4 478.3 L135.8 480.7 L138.1 414.8 L138.6 427.3 L139.5 439.4 L140.6 449.9 L142.1 459.0 L143.8 466.9 L145.5 472.7 L147.5 477.6 L148.6 479.7 L150.0 481.8 L152.3 432.3 L153.1 445.4 L154.6 457.3 L156.3 466.1 L158.5 473.8 L159.7 476.6 L161.1 479.4 L162.5 481.6 L163.9 483.3 L165.6 484.8 L167.6 486.1 L169.6 487.0 L172.2 487.8 L176.7 488.6 L182.7 489.0 L207.4 489.2 L209.7 478.1 L210.3 480.0 L211.1 481.9 L212.3 483.4 L213.4 484.6 L215.1 485.8 L217.1 486.8 L219.1 487.5 L221.6 488.2 L223.9 460.8 L224.5 465.7 L225.3 470.4 L226.5 474.4 L227.6 477.2 L229.3 480.4 L231.0 482.7 L233.0 484.6 L235.3 486.1 L237.5 452.4 L238.1 458.6 L239.0 464.7 L240.1 469.8 L241.2 473.6 L242.9 477.7 L244.9 481.1 L246.9 483.5 L249.5 485.6 L251.8 449.9 L252.3 456.5 L253.2 462.9 L254.3 468.5 L255.5 472.4 L257.2 476.9 L259.1 480.5 L261.1 483.1 L263.7 485.3 L266.0 454.7 L266.5 461.8 L267.4 468.6 L268.5 474.3 L269.9 479.0 L271.7 482.6 L273.4 484.9 L275.6 486.8 L278.5 488.0 L280.7 488.5 L283.6 488.9 L291.8 489.2 L377.9 489.2" fill="none" stroke="#daa520" stroke-width="2.55" stroke-linejoin="round" stroke-linecap="butt"/>
</g>
<clipPath id="clipD"><rect x="437.10" y="270.40" width="321.50" height="218.85"/></clipPath>
<g clip-path="url(#clipD)">
<path d="M439.9 489.2 L469.5 489.2 L469.7 487.6 L470.9 468.9 L471.7 460.8 L472.6 455.7 L473.7 452.8 L474.3 452.1 L475.1 452.1 L476.0 452.8 L477.7 454.9 L478.8 457.0 L481.4 463.6 L482.2 464.9 L482.8 465.2 L483.4 464.1 L484.0 461.3 L486.2 444.0 L488.2 433.1 L489.1 429.8 L489.6 429.1 L490.5 429.7 L492.8 434.3 L493.6 437.2 L496.2 447.9 L497.0 450.0 L497.6 450.5 L497.9 450.2 L498.4 448.0 L500.2 436.4 L501.6 429.3 L502.1 427.1 L502.7 426.2 L503.3 426.5 L504.1 427.7 L506.4 432.9 L507.5 437.0 L510.1 447.9 L510.9 450.6 L511.8 452.3 L512.4 452.7 L512.9 451.8 L515.5 438.9 L516.1 438.0 L516.6 438.2 L517.8 439.7 L519.8 443.4 L524.0 456.8 L525.2 459.7 L526.0 461.0 L526.6 461.5 L526.9 461.5 L527.1 461.3 L527.7 460.1 L529.4 454.1 L530.0 453.4 L530.8 453.8 L532.0 455.2 L535.1 460.2 L541.4 473.1 L545.1 478.0 L547.9 481.1 L550.5 483.1 L554.1 484.9 L557.8 486.2 L561.5 486.8 L567.2 487.3 L583.7 487.9 L584.0 487.4 L584.3 486.1 L585.1 480.3 L585.7 477.8 L587.1 475.6 L587.7 475.1 L588.3 474.9 L589.1 475.1 L590.0 475.6 L594.8 480.7 L595.9 481.5 L596.8 481.7 L597.1 481.2 L597.3 480.0 L599.3 465.4 L600.8 460.5 L601.9 458.0 L602.2 457.7 L602.7 457.6 L603.9 458.6 L606.4 462.4 L609.9 468.6 L610.7 469.6 L611.6 470.0 L611.8 469.5 L612.1 468.2 L613.5 459.5 L615.0 455.9 L615.5 455.1 L615.8 455.0 L616.4 455.2 L617.2 456.0 L619.8 459.9 L620.9 462.2 L623.8 469.2 L624.6 470.7 L625.5 471.7 L626.1 471.9 L626.6 470.7 L628.6 459.4 L628.9 458.5 L629.2 458.2 L629.5 458.2 L630.6 459.2 L633.2 462.9 L637.1 470.7 L638.0 472.0 L638.8 472.9 L639.7 473.2 L640.3 472.7 L640.8 471.3 L642.8 464.8 L643.4 463.9 L643.7 463.7 L644.2 463.8 L645.7 464.9 L649.4 469.4 L655.0 477.9 L657.6 481.0 L660.2 482.8 L663.3 484.6 L665.8 485.7 L668.4 486.6 L675.5 487.6 L684.0 488.1 L707.3 488.6 L753.9 489.0" fill="none" stroke="#8e00d2" stroke-width="2.55" stroke-linejoin="round" stroke-linecap="butt"/>
<path d="M439.9 489.2 L753.9 489.2" fill="none" stroke="#000000" stroke-width="2.55" stroke-linejoin="round" stroke-linecap="butt"/>
<path d="M439.9 489.2 L476.0 489.2 L477.7 488.4 L479.7 488.2 L484.2 488.5 L485.1 488.9 L486.2 489.2 L489.6 489.2 L491.3 488.1 L493.3 487.8 L497.9 488.3 L498.7 488.8 L499.9 489.1 L503.3 489.2 L505.0 488.1 L507.0 487.8 L511.8 488.3 L512.7 488.9 L513.5 489.1 L516.6 489.2 L517.2 489.2 L518.9 488.1 L520.9 487.8 L526.0 488.3 L526.9 488.9 L528.0 489.1 L531.4 489.2 L533.1 488.1 L535.1 487.8 L545.9 488.9 L557.6 489.2 L588.8 489.2 L590.5 488.7 L592.5 488.5 L597.6 488.8 L599.6 489.2 L603.0 489.2 L604.7 488.4 L606.7 488.2 L611.3 488.5 L612.1 488.9 L613.3 489.2 L616.7 489.2 L618.4 488.4 L620.4 488.2 L625.5 488.6 L626.3 489.0 L627.5 489.2 L630.9 489.2 L632.6 488.4 L634.6 488.2 L639.7 488.6 L640.5 489.0 L641.7 489.2 L645.1 489.2 L646.8 488.4 L648.8 488.2 L658.7 489.0 L667.8 489.2 L753.9 489.2" fill="none" stroke="#ff0000" stroke-width="2.55" stroke-linejoin="round" stroke-linecap="butt"/>
<path d="M439.9 489.2 L472.9 489.2 L473.2 488.6 L473.7 484.7 L474.6 481.1 L475.1 479.7 L475.7 478.8 L476.3 478.4 L476.8 478.3 L477.7 478.5 L478.6 479.0 L484.8 483.7 L485.1 485.6 L485.7 487.7 L486.5 488.8 L487.6 489.2 L487.9 488.1 L488.5 481.6 L489.4 475.6 L489.9 473.3 L490.5 471.9 L491.1 471.2 L491.6 471.0 L492.5 471.3 L493.3 472.1 L498.4 478.7 L498.7 482.4 L499.3 486.4 L499.9 488.0 L500.4 488.7 L501.0 489.0 L501.3 487.8 L502.1 478.0 L503.0 472.5 L503.8 469.8 L504.4 469.0 L505.0 468.8 L505.8 469.2 L506.7 470.1 L512.4 478.2 L512.7 482.1 L513.2 486.2 L513.8 488.0 L514.4 488.7 L514.9 489.0 L515.2 488.1 L516.1 480.8 L516.9 476.7 L517.8 474.7 L518.3 474.1 L518.9 473.9 L519.8 474.2 L520.6 474.9 L526.6 481.2 L526.9 484.0 L527.4 487.1 L528.0 488.3 L528.6 488.9 L529.7 484.0 L530.6 481.6 L531.7 480.1 L532.8 479.8 L534.5 480.2 L540.5 483.6 L544.5 485.3 L549.3 486.7 L555.0 487.8 L560.4 488.3 L566.9 488.8 L586.0 489.2 L586.3 488.9 L586.8 487.3 L587.7 485.9 L588.8 485.0 L590.0 484.8 L591.7 485.1 L598.2 487.1 L599.1 488.6 L600.2 489.1 L600.5 488.6 L601.3 484.0 L602.2 481.5 L603.0 480.2 L604.2 479.8 L605.9 480.3 L611.8 484.3 L612.1 486.0 L612.7 487.9 L613.3 488.7 L614.4 489.1 L614.7 488.5 L615.5 483.6 L616.4 480.9 L617.2 479.5 L617.8 479.1 L618.4 479.0 L619.2 479.2 L620.1 479.7 L626.1 483.9 L626.3 485.8 L626.9 487.8 L627.5 488.6 L628.6 489.1 L628.9 488.5 L629.7 483.6 L630.6 480.9 L631.5 479.5 L632.0 479.1 L632.6 479.0 L633.4 479.2 L634.3 479.7 L640.3 483.9 L640.5 485.8 L641.1 487.8 L641.7 488.6 L642.8 489.1 L643.1 488.6 L644.0 484.4 L644.8 482.1 L645.7 480.9 L646.8 480.5 L648.2 480.9 L654.2 484.5 L658.4 486.3 L663.8 487.7 L670.7 488.6 L678.6 489.0 L690.0 489.2 L753.9 489.2" fill="none" stroke="#008000" stroke-width="2.55" stroke-linejoin="round" stroke-linecap="butt"/>
<path d="M439.9 489.2 L753.9 489.2" fill="none" stroke="#0000ff" stroke-width="2.55" stroke-linejoin="round" stroke-linecap="butt"/>
<path d="M439.9 489.2 L753.9 489.2" fill="none" stroke="#00bfbf" stroke-width="2.55" stroke-linejoin="round" stroke-linecap="butt"/>
<path d="M439.9 489.2 L753.9 489.2" fill="none" stroke="#bf00bf" stroke-width="2.55" stroke-linejoin="round" stroke-linecap="butt"/>
<path d="M439.9 489.2 L470.0 489.2 L471.2 489.1 L472.6 488.0 L474.0 487.6 L484.8 488.1 L486.2 487.6 L488.2 487.6 L498.4 488.1 L499.6 487.7 L501.3 487.6 L512.4 488.1 L513.8 487.7 L515.8 487.6 L526.6 488.1 L528.0 487.7 L530.0 487.6 L548.7 488.6 L569.2 489.2 L584.0 489.2 L586.0 488.1 L587.7 487.7 L598.2 488.2 L599.6 487.8 L601.6 487.7 L611.8 488.2 L613.3 487.8 L615.0 487.7 L626.1 488.2 L627.5 487.8 L629.2 487.7 L640.3 488.2 L641.4 487.8 L643.1 487.7 L662.7 488.7 L681.2 489.2 L753.9 489.2" fill="none" stroke="#ffd700" stroke-width="2.55" stroke-linejoin="round" stroke-linecap="butt"/>
<path d="M439.9 489.2 L473.7 489.2 L474.3 487.4 L475.1 485.8 L476.0 485.1 L477.1 484.9 L478.8 485.1 L484.2 486.6 L484.8 488.3 L485.4 488.9 L485.9 489.1 L486.5 486.7 L487.4 484.6 L488.2 483.7 L489.4 483.4 L490.8 483.7 L497.9 486.1 L498.4 488.2 L499.0 488.9 L499.6 489.1 L500.2 486.7 L501.0 484.6 L501.9 483.7 L503.0 483.4 L504.4 483.7 L511.8 486.2 L512.4 488.2 L512.9 488.9 L513.5 489.1 L514.1 486.7 L514.9 484.6 L515.8 483.7 L516.9 483.4 L518.3 483.7 L526.0 486.3 L526.6 488.2 L527.1 488.9 L527.7 489.1 L528.3 486.8 L528.9 485.4 L529.7 484.4 L530.6 484.1 L532.0 484.5 L537.4 486.8 L541.6 487.9 L547.9 488.7 L556.7 489.1 L583.1 489.2 L583.7 488.3 L584.6 487.5 L585.4 487.2 L586.5 487.1 L597.6 488.3 L598.2 488.9 L598.8 487.6 L599.6 486.3 L600.5 485.8 L601.6 485.6 L611.3 487.5 L611.8 488.6 L613.0 489.2 L613.5 487.6 L614.4 486.4 L615.3 485.8 L616.4 485.6 L625.5 487.4 L626.1 488.6 L626.6 489.0 L627.2 489.2 L627.8 487.6 L628.6 486.4 L629.5 485.8 L630.6 485.6 L639.7 487.4 L640.3 488.6 L640.8 489.0 L641.4 489.2 L642.0 487.5 L642.5 486.5 L643.4 485.8 L644.2 485.6 L645.7 485.8 L650.5 487.4 L653.9 488.1 L658.7 488.7 L665.3 489.0 L683.2 489.2 L753.9 489.2" fill="none" stroke="#1e90ff" stroke-width="2.55" stroke-linejoin="round" stroke-linecap="butt"/>
<path d="M439.9 489.2 L470.6 489.2 L472.9 464.8 L475.1 472.9 L476.3 475.8 L477.7 478.8 L479.1 481.1 L480.5 482.9 L482.2 484.6 L484.2 485.9 L486.5 442.9 L487.1 451.1 L487.9 459.1 L489.1 466.0 L490.2 470.8 L491.9 476.1 L493.6 479.8 L495.6 482.8 L497.9 485.1 L500.2 440.0 L500.7 448.7 L501.6 457.2 L502.7 464.6 L503.8 469.7 L505.6 475.3 L507.3 479.3 L509.2 482.5 L511.8 485.2 L514.1 451.7 L514.6 458.3 L515.5 464.8 L516.6 470.4 L518.1 475.1 L519.8 479.2 L521.5 482.0 L523.5 484.4 L526.0 486.3 L528.3 464.8 L529.4 472.1 L530.8 476.9 L532.0 479.5 L533.1 481.5 L534.5 483.4 L536.2 485.0 L537.7 486.1 L539.4 487.0 L541.4 487.7 L543.6 488.3 L549.0 488.9 L557.6 489.2 L583.4 489.2 L585.7 479.4 L586.3 481.2 L587.1 482.9 L588.3 484.4 L589.4 485.4 L591.1 486.5 L592.8 487.3 L595.1 488.0 L597.6 488.5 L599.9 467.7 L600.5 471.6 L601.3 475.3 L602.5 478.5 L603.6 480.8 L605.3 483.2 L607.0 484.9 L609.0 486.3 L611.3 487.4 L613.5 465.9 L614.1 470.0 L615.0 474.1 L616.1 477.6 L617.5 480.5 L619.2 483.0 L620.9 484.8 L622.9 486.2 L625.5 487.4 L627.8 469.2 L628.3 472.7 L629.2 476.2 L630.3 479.2 L631.7 481.7 L633.4 483.9 L635.1 485.4 L637.1 486.6 L639.7 487.7 L642.0 472.1 L642.5 475.8 L643.4 479.3 L644.5 482.3 L645.7 484.2 L647.1 485.8 L648.8 487.1 L651.1 488.1 L653.6 488.7 L658.2 489.1 L666.1 489.2 L753.9 489.2" fill="none" stroke="#daa520" stroke-width="2.55" stroke-linejoin="round" stroke-linecap="butt"/>
</g>
<path d="M61.20 15.55V234.30" stroke="#000" stroke-width="1.3" fill="none"/>
<path d="M60.55 234.30H382.80" stroke="#000" stroke-width="1.3" fill="none"/>
<path d="M55.40 234.30H61.2" stroke="#000" stroke-width="1.3"/>
<text transform="translate(50.30 240.20) scale(1.06 1)" text-anchor="end" font-size="14.2">0</text>
<path d="M55.40 197.84H61.2" stroke="#000" stroke-width="1.3"/>
<text transform="translate(50.30 203.74) scale(1.06 1)" text-anchor="end" font-size="14.2">50</text>
<path d="M55.40 161.38H61.2" stroke="#000" stroke-width="1.3"/>
<text transform="translate(50.30 167.28) scale(1.06 1)" text-anchor="end" font-size="14.2">100</text>
<path d="M55.40 124.93H61.2" stroke="#000" stroke-width="1.3"/>
<text transform="translate(50.30 130.83) scale(1.06 1)" text-anchor="end" font-size="14.2">150</text>
<path d="M55.40 88.47H61.2" stroke="#000" stroke-width="1.3"/>
<text transform="translate(50.30 94.37) scale(1.06 1)" text-anchor="end" font-size="14.2">200</text>
<path d="M55.40 52.01H61.2" stroke="#000" stroke-width="1.3"/>
<text transform="translate(50.30 57.91) scale(1.06 1)" text-anchor="end" font-size="14.2">250</text>
<path d="M55.40 15.55H61.2" stroke="#000" stroke-width="1.3"/>
<text transform="translate(50.30 21.45) scale(1.06 1)" text-anchor="end" font-size="14.2">300</text>
<path d="M64.00 234.3V239.60" stroke="#000" stroke-width="1.3"/>
<text transform="translate(64.50 255.50) scale(1.06 1)" text-anchor="middle" font-size="14.2">0</text>
<path d="M120.84 234.3V239.60" stroke="#000" stroke-width="1.3"/>
<text transform="translate(121.34 255.50) scale(1.06 1)" text-anchor="middle" font-size="14.2">2</text>
<path d="M177.68 234.3V239.60" stroke="#000" stroke-width="1.3"/>
<text transform="translate(178.18 255.50) scale(1.06 1)" text-anchor="middle" font-size="14.2">4</text>
<path d="M234.52 234.3V239.60" stroke="#000" stroke-width="1.3"/>
<text transform="translate(235.02 255.50) scale(1.06 1)" text-anchor="middle" font-size="14.2">6</text>
<path d="M291.36 234.3V239.60" stroke="#000" stroke-width="1.3"/>
<text transform="translate(291.86 255.50) scale(1.06 1)" text-anchor="middle" font-size="14.2">8</text>
<path d="M348.20 234.3V239.60" stroke="#000" stroke-width="1.3"/>
<text transform="translate(348.70 255.50) scale(1.06 1)" text-anchor="middle" font-size="14.2">10</text>
<path d="M437.10 12.90V231.40" stroke="#000" stroke-width="1.3" fill="none"/>
<path d="M436.45 231.40H758.80" stroke="#000" stroke-width="1.3" fill="none"/>
<path d="M431.30 231.40H437.1" stroke="#000" stroke-width="1.3"/>
<text transform="translate(426.20 237.30) scale(1.06 1)" text-anchor="end" font-size="14.2">0</text>
<path d="M431.30 194.98H437.1" stroke="#000" stroke-width="1.3"/>
<text transform="translate(426.20 200.88) scale(1.06 1)" text-anchor="end" font-size="14.2">50</text>
<path d="M431.30 158.57H437.1" stroke="#000" stroke-width="1.3"/>
<text transform="translate(426.20 164.47) scale(1.06 1)" text-anchor="end" font-size="14.2">100</text>
<path d="M431.30 122.15H437.1" stroke="#000" stroke-width="1.3"/>
<text transform="translate(426.20 128.05) scale(1.06 1)" text-anchor="end" font-size="14.2">150</text>
<path d="M431.30 85.73H437.1" stroke="#000" stroke-width="1.3"/>
<text transform="translate(426.20 91.63) scale(1.06 1)" text-anchor="end" font-size="14.2">200</text>
<path d="M431.30 49.32H437.1" stroke="#000" stroke-width="1.3"/>
<text transform="translate(426.20 55.22) scale(1.06 1)" text-anchor="end" font-size="14.2">250</text>
<path d="M431.30 12.90H437.1" stroke="#000" stroke-width="1.3"/>
<text transform="translate(426.20 18.80) scale(1.06 1)" text-anchor="end" font-size="14.2">300</text>
<path d="M439.90 231.4V236.70" stroke="#000" stroke-width="1.3"/>
<text transform="translate(440.40 252.60) scale(1.06 1)" text-anchor="middle" font-size="14.2">0</text>
<path d="M496.74 231.4V236.70" stroke="#000" stroke-width="1.3"/>
<text transform="translate(497.24 252.60) scale(1.06 1)" text-anchor="middle" font-size="14.2">2</text>
<path d="M553.58 231.4V236.70" stroke="#000" stroke-width="1.3"/>
<text transform="translate(554.08 252.60) scale(1.06 1)" text-anchor="middle" font-size="14.2">4</text>
<path d="M610.42 231.4V236.70" stroke="#000" stroke-width="1.3"/>
<text transform="translate(610.92 252.60) scale(1.06 1)" text-anchor="middle" font-size="14.2">6</text>
<path d="M667.26 231.4V236.70" stroke="#000" stroke-width="1.3"/>
<text transform="translate(667.76 252.60) scale(1.06 1)" text-anchor="middle" font-size="14.2">8</text>
<path d="M724.10 231.4V236.70" stroke="#000" stroke-width="1.3"/>
<text transform="translate(724.60 252.60) scale(1.06 1)" text-anchor="middle" font-size="14.2">10</text>
<path d="M61.20 270.40V489.25" stroke="#000" stroke-width="1.3" fill="none"/>
<path d="M60.55 489.25H382.60" stroke="#000" stroke-width="1.3" fill="none"/>
<path d="M55.40 489.25H61.2" stroke="#000" stroke-width="1.3"/>
<text transform="translate(50.30 495.15) scale(1.06 1)" text-anchor="end" font-size="14.2">0</text>
<path d="M55.40 452.77H61.2" stroke="#000" stroke-width="1.3"/>
<text transform="translate(50.30 458.67) scale(1.06 1)" text-anchor="end" font-size="14.2">50</text>
<path d="M55.40 416.30H61.2" stroke="#000" stroke-width="1.3"/>
<text transform="translate(50.30 422.20) scale(1.06 1)" text-anchor="end" font-size="14.2">100</text>
<path d="M55.40 379.82H61.2" stroke="#000" stroke-width="1.3"/>
<text transform="translate(50.30 385.72) scale(1.06 1)" text-anchor="end" font-size="14.2">150</text>
<path d="M55.40 343.35H61.2" stroke="#000" stroke-width="1.3"/>
<text transform="translate(50.30 349.25) scale(1.06 1)" text-anchor="end" font-size="14.2">200</text>
<path d="M55.40 306.88H61.2" stroke="#000" stroke-width="1.3"/>
<text transform="translate(50.30 312.77) scale(1.06 1)" text-anchor="end" font-size="14.2">250</text>
<path d="M55.40 270.40H61.2" stroke="#000" stroke-width="1.3"/>
<text transform="translate(50.30 276.30) scale(1.06 1)" text-anchor="end" font-size="14.2">300</text>
<path d="M63.90 489.25V494.55" stroke="#000" stroke-width="1.3"/>
<text transform="translate(64.40 510.45) scale(1.06 1)" text-anchor="middle" font-size="14.2">0</text>
<path d="M120.74 489.25V494.55" stroke="#000" stroke-width="1.3"/>
<text transform="translate(121.24 510.45) scale(1.06 1)" text-anchor="middle" font-size="14.2">2</text>
<path d="M177.58 489.25V494.55" stroke="#000" stroke-width="1.3"/>
<text transform="translate(178.08 510.45) scale(1.06 1)" text-anchor="middle" font-size="14.2">4</text>
<path d="M234.42 489.25V494.55" stroke="#000" stroke-width="1.3"/>
<text transform="translate(234.92 510.45) scale(1.06 1)" text-anchor="middle" font-size="14.2">6</text>
<path d="M291.26 489.25V494.55" stroke="#000" stroke-width="1.3"/>
<text transform="translate(291.76 510.45) scale(1.06 1)" text-anchor="middle" font-size="14.2">8</text>
<path d="M348.10 489.25V494.55" stroke="#000" stroke-width="1.3"/>
<text transform="translate(348.60 510.45) scale(1.06 1)" text-anchor="middle" font-size="14.2">10</text>
<path d="M437.10 270.40V489.25" stroke="#000" stroke-width="1.3" fill="none"/>
<path d="M436.45 489.25H758.60" stroke="#000" stroke-width="1.3" fill="none"/>
<path d="M431.30 489.25H437.1" stroke="#000" stroke-width="1.3"/>
<text transform="translate(426.20 495.15) scale(1.06 1)" text-anchor="end" font-size="14.2">0</text>
<path d="M431.30 452.77H437.1" stroke="#000" stroke-width="1.3"/>
<text transform="translate(426.20 458.67) scale(1.06 1)" text-anchor="end" font-size="14.2">50</text>
<path d="M431.30 416.30H437.1" stroke="#000" stroke-width="1.3"/>
<text transform="translate(426.20 422.20) scale(1.06 1)" text-anchor="end" font-size="14.2">100</text>
<path d="M431.30 379.82H437.1" stroke="#000" stroke-width="1.3"/>
<text transform="translate(426.20 385.72) scale(1.06 1)" text-anchor="end" font-size="14.2">150</text>
<path d="M431.30 343.35H437.1" stroke="#000" stroke-width="1.3"/>
<text transform="translate(426.20 349.25) scale(1.06 1)" text-anchor="end" font-size="14.2">200</text>
<path d="M431.30 306.88H437.1" stroke="#000" stroke-width="1.3"/>
<text transform="translate(426.20 312.77) scale(1.06 1)" text-anchor="end" font-size="14.2">250</text>
<path d="M431.30 270.40H437.1" stroke="#000" stroke-width="1.3"/>
<text transform="translate(426.20 276.30) scale(1.06 1)" text-anchor="end" font-size="14.2">300</text>
<path d="M439.90 489.25V494.55" stroke="#000" stroke-width="1.3"/>
<text transform="translate(440.40 510.45) scale(1.06 1)" text-anchor="middle" font-size="14.2">0</text>
<path d="M496.74 489.25V494.55" stroke="#000" stroke-width="1.3"/>
<text transform="translate(497.24 510.45) scale(1.06 1)" text-anchor="middle" font-size="14.2">2</text>
<path d="M553.58 489.25V494.55" stroke="#000" stroke-width="1.3"/>
<text transform="translate(554.08 510.45) scale(1.06 1)" text-anchor="middle" font-size="14.2">4</text>
<path d="M610.42 489.25V494.55" stroke="#000" stroke-width="1.3"/>
<text transform="translate(610.92 510.45) scale(1.06 1)" text-anchor="middle" font-size="14.2">6</text>
<path d="M667.26 489.25V494.55" stroke="#000" stroke-width="1.3"/>
<text transform="translate(667.76 510.45) scale(1.06 1)" text-anchor="middle" font-size="14.2">8</text>
<path d="M724.10 489.25V494.55" stroke="#000" stroke-width="1.3"/>
<text transform="translate(724.60 510.45) scale(1.06 1)" text-anchor="middle" font-size="14.2">10</text>
<text x="158.5" y="26.3" font-size="19.3">0.65 μM PP1</text>
<text x="526.1" y="28.0" font-size="19.3">1.25 μM PP1</text>
<text x="157.4" y="315.1" font-size="19.1">2.5 μM PP1</text>
<text x="527.4" y="315.1" font-size="19.1">5.0 μM PP1</text>
<text transform="translate(4.0 16.4) scale(1.1 1)" font-size="18">A.</text>
<text transform="translate(380.6 17.2) scale(1.1 1)" font-size="18">B.</text>
<text transform="translate(3.6 275.8) scale(1.1 1)" font-size="18">C.</text>
<text transform="translate(380.9 276.9) scale(1.1 1)" font-size="18">D.</text>
<text transform="translate(18.7 124.6) rotate(-90) scale(1.1 1)" text-anchor="middle" font-size="17.5" font-weight="bold">number of molecules</text>
<text transform="translate(18.7 382) rotate(-90) scale(1.1 1)" text-anchor="middle" font-size="17.5" font-weight="bold">number of molecules</text>
<text transform="translate(176.6 534.4) scale(1.15 1)" font-size="17" font-weight="bold">time (s)</text>
<text transform="translate(562.8 535.3) scale(1.15 1)" font-size="17" font-weight="bold">time (s)</text>
<rect x="660.4" y="16.2" width="93.9" height="116.4" fill="#fff" fill-opacity="0.8" stroke="#d8d8d8" stroke-width="1"/>
<path d="M662.6 22.85H679" stroke="#8e00d2" stroke-width="2.5"/>
<text transform="translate(683.8 26.15) scale(1.03 1)" font-size="7.5">pCaMKII total</text>
<path d="M662.6 34.37H679" stroke="#000000" stroke-width="2.5"/>
<text transform="translate(683.8 37.67) scale(1.03 1)" font-size="7.5">pCaMKII.CaM0</text>
<path d="M662.6 45.89H679" stroke="#ff0000" stroke-width="2.5"/>
<text transform="translate(683.8 49.19) scale(1.03 1)" font-size="7.5">pCaMKII.CaM1C</text>
<path d="M662.6 57.41H679" stroke="#008000" stroke-width="2.5"/>
<text transform="translate(683.8 60.71) scale(1.03 1)" font-size="7.5">pCaMKII.CaM2C</text>
<path d="M662.6 68.93H679" stroke="#0000ff" stroke-width="2.5"/>
<text transform="translate(683.8 72.23) scale(1.03 1)" font-size="7.5">pCaMKII.CaM1N</text>
<path d="M662.6 80.45H679" stroke="#00bfbf" stroke-width="2.5"/>
<text transform="translate(683.8 83.75) scale(1.03 1)" font-size="7.5">pCaMKII.CaM2N</text>
<path d="M662.6 91.97H679" stroke="#bf00bf" stroke-width="2.5"/>
<text transform="translate(683.8 95.27) scale(1.03 1)" font-size="7.5">pCaMKII.CaM1C1N</text>
<path d="M662.6 103.49H679" stroke="#ffd700" stroke-width="2.5"/>
<text transform="translate(683.8 106.79) scale(1.03 1)" font-size="7.5">pCaMKII.CaM1C2N</text>
<path d="M662.6 115.01H679" stroke="#1e90ff" stroke-width="2.5"/>
<text transform="translate(683.8 118.31) scale(1.03 1)" font-size="7.5">pCaMKII.CaM2C1N</text>
<path d="M662.6 126.53H679" stroke="#daa520" stroke-width="2.5"/>
<text transform="translate(683.8 129.83) scale(1.03 1)" font-size="7.5">pCaMKII.CaM4</text>
<rect x="2.15" y="1.9" width="763.4" height="538.6" fill="none" stroke="#6a6a6a" stroke-width="1.4"/>
</svg></body></html>
